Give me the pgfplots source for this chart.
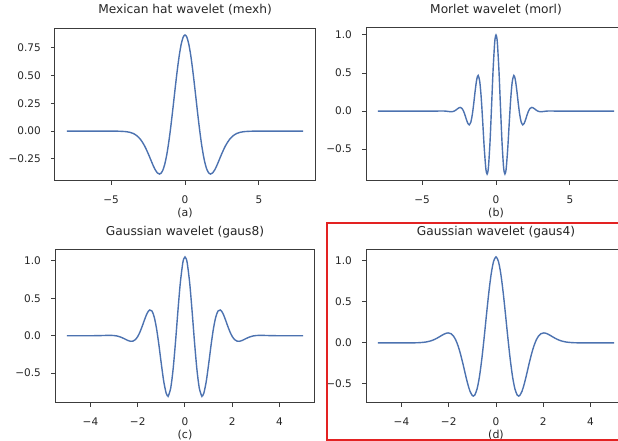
\documentclass[border=0pt]{standalone}
\usepackage{pgfplots}
\pgfplotsset{compat=1.18}
\usepackage{fontspec}
\setmainfont{DejaVu Sans}
\definecolor{sblue}{HTML}{4C72B0}
\definecolor{dk}{HTML}{262626}
\definecolor{sp}{HTML}{3C3C3C}
\definecolor{redbox}{HTML}{E32222}
\pgfplotsset{
  wav/.style={
    scale only axis, width=260pt, height=153pt,
    axis line style={sp, line width=1pt},
    tick pos=left, tick align=outside,
    major tick length=4pt,
    tick style={sp, line width=1pt},
    ticklabel style={text=dk, font=\fontsize{10.5}{12}\selectfont},
    xticklabel style={anchor=base, yshift=-19pt, inner sep=0pt},
    yticklabel style={anchor=east, xshift=-10pt, inner sep=0pt},
    title style={at={(axis description cs:0.5,1)}, anchor=base, yshift=8.7pt, inner sep=0pt, text=dk, font=\fontsize{12.2}{14}\selectfont},
    xlabel style={at={(axis description cs:0.5,0)}, anchor=base, yshift=-35.5pt, inner sep=0pt, text=dk, font=\fontsize{11}{13}\selectfont},
  },
  curve/.style={sblue, line width=1.4pt, smooth, no markers},
}
\begin{document}
\begin{tikzpicture}[x=1pt,y=1pt]
\fill[white] (0,0) rectangle (640,441);
% (a) Mexican hat
\begin{axis}[wav, at={(55pt,260pt)}, anchor=south west,
  xmin=-8.8, xmax=8.8, ymin=-0.4497, ymax=0.9300,
  xtick={-5,0,5}, xticklabels={−5,0,5},
  ytick={-0.25,0,0.25,0.5,0.75}, yticklabels={−0.25,0.00,0.25,0.50,0.75},
  title={Mexican hat wavelet (mexh)}, xlabel={(a)}]
\addplot[curve] coordinates {
(-8,0) (-6,0) (-5,-0.0001) (-4.5,-0.0007) (-4,-0.0044) (-3.75,-0.0100) (-3.5,-0.0213) (-3.25,-0.0422) (-3,-0.0771) (-2.75,-0.1297) (-2.5,-0.2001) (-2.25,-0.2803) (-2.125,-0.3189) (-2,-0.3521) (-1.875,-0.3762) (-1.732,-0.3870) (-1.625,-0.3800) (-1.5,-0.3520) (-1.375,-0.3001) (-1.25,-0.2234) (-1.125,-0.1224) (-1,0) (-0.875,0.1386) (-0.75,0.2864) (-0.625,0.4347) (-0.5,0.5740) (-0.375,0.6947) (-0.25,0.7881) (-0.125,0.8471)
(0,0.8673)
(0.125,0.8471) (0.25,0.7881) (0.375,0.6947) (0.5,0.5740) (0.625,0.4347) (0.75,0.2864) (0.875,0.1386) (1,0) (1.125,-0.1224) (1.25,-0.2234) (1.375,-0.3001) (1.5,-0.3520) (1.625,-0.3800) (1.732,-0.3870) (1.875,-0.3762) (2,-0.3521) (2.125,-0.3189) (2.25,-0.2803) (2.5,-0.2001) (2.75,-0.1297) (3,-0.0771) (3.25,-0.0422) (3.5,-0.0213) (3.75,-0.0100) (4,-0.0044) (4.5,-0.0007) (5,-0.0001) (6,0) (8,0)
};
\end{axis}
% (b) Morlet
\begin{axis}[wav, at={(366pt,260pt)}, anchor=south west,
  xmin=-8.8, xmax=8.8, ymin=-0.9185, ymax=1.0914,
  xtick={-5,0,5}, xticklabels={−5,0,5},
  ytick={-0.5,0,0.5,1}, yticklabels={−0.5,0.0,0.5,1.0},
  title={Morlet wavelet (morl)}, xlabel={(b)}]
\addplot[curve] coordinates {
(-8,0) (-4.5,0) (-4,0.0001) (-3.8,0.0007) (-3.6,0.0010) (-3.5,0.0005) (-3.4,-0.0009) (-3.3,-0.0030) (-3.2,-0.0057) (-3.1,-0.0080) (-3.0294,-0.0086) (-2.9,-0.0053) (-2.8,0.0027) (-2.7,0.0155) (-2.6,0.0309) (-2.5,0.0438) (-2.4202,0.0478) (-2.3,0.0343) (-2.2,0.0004) (-2.1,-0.0524) (-2.0,-0.1136) (-1.9,-0.1640) (-1.8128,-0.1809) (-1.7,-0.1419) (-1.6,-0.0405) (-1.5,0.1125) (-1.4,0.2830) (-1.3,0.4195) (-1.2074,0.4679) (-1.1,0.3870) (-1.0,0.1721) (-0.9,-0.1406) (-0.8,-0.4746) (-0.7,-0.7330) (-0.65,-0.8048) (-0.6033,-0.8271) (-0.55,-0.7946) (-0.5,-0.7070) (-0.4,-0.3842) (-0.3,0.0676) (-0.2,0.5296) (-0.1,0.8732) (-0.05,0.9677)
(0,1.0000)
(0.05,0.9677) (0.1,0.8732) (0.2,0.5296) (0.3,0.0676) (0.4,-0.3842) (0.5,-0.7070) (0.55,-0.7946) (0.6033,-0.8271) (0.65,-0.8048) (0.7,-0.7330) (0.8,-0.4746) (0.9,-0.1406) (1.0,0.1721) (1.1,0.3870) (1.2074,0.4679) (1.3,0.4195) (1.4,0.2830) (1.5,0.1125) (1.6,-0.0405) (1.7,-0.1419) (1.8128,-0.1809) (1.9,-0.1640) (2.0,-0.1136) (2.1,-0.0524) (2.2,0.0004) (2.3,0.0343) (2.4202,0.0478) (2.5,0.0438) (2.6,0.0309) (2.7,0.0155) (2.8,0.0027) (2.9,-0.0053) (3.0294,-0.0086) (3.1,-0.0080) (3.2,-0.0057) (3.3,-0.0030) (3.4,-0.0009) (3.5,0.0005) (3.6,0.0010) (3.8,0.0007) (4,0.0001) (4.5,0) (8,0)
};
\end{axis}
% (c) gaus8
\begin{axis}[wav, at={(55pt,38pt)}, anchor=south west,
  xmin=-5.5, xmax=5.5, ymin=-0.899, ymax=1.147,
  xtick={-4,-2,0,2,4}, xticklabels={−4,−2,0,2,4},
  ytick={-0.5,0,0.5,1}, yticklabels={−0.5,0.0,0.5,1.0},
  title={Gaussian wavelet (gaus8)}, xlabel={(c)}]
\addplot[curve] coordinates {
(-5,0) (-4,0.0004) (-3.5,0.0031) (-3.4,0.0041) (-3.3,0.0049) (-3.2,0.0054) (-3.1,0.0049) (-3.0,0.0028) (-2.9,-0.0017) (-2.8,-0.0093) (-2.7,-0.0203) (-2.6,-0.0346) (-2.5,-0.0505) (-2.4,-0.0651) (-2.3,-0.0740) (-2.2,-0.0714) (-2.1,-0.0516) (-2.0,-0.0101) (-1.9,0.0539) (-1.8,0.1359) (-1.7,0.2245) (-1.6,0.3016) (-1.5,0.3450) (-1.4,0.3324) (-1.3,0.2479) (-1.2,0.0884) (-1.1,-0.1314) (-1.0,-0.3804) (-0.9,-0.6093) (-0.8,-0.7652) (-0.75,-0.8007) (-0.72,-0.8055) (-0.7,-0.8016) (-0.6,-0.6914) (-0.5,-0.4373) (-0.4,-0.0753) (-0.3,0.3307) (-0.2,0.7014) (-0.1,0.9609) (-0.05,1.0304)
(0,1.0540)
(0.05,1.0304) (0.1,0.9609) (0.2,0.7014) (0.3,0.3307) (0.4,-0.0753) (0.5,-0.4373) (0.6,-0.6914) (0.7,-0.8016) (0.72,-0.8055) (0.75,-0.8007) (0.8,-0.7652) (0.9,-0.6093) (1.0,-0.3804) (1.1,-0.1314) (1.2,0.0884) (1.3,0.2479) (1.4,0.3324) (1.5,0.3450) (1.6,0.3016) (1.7,0.2245) (1.8,0.1359) (1.9,0.0539) (2.0,-0.0101) (2.1,-0.0516) (2.2,-0.0714) (2.3,-0.0740) (2.4,-0.0651) (2.5,-0.0505) (2.6,-0.0346) (2.7,-0.0203) (2.8,-0.0093) (2.9,-0.0017) (3.0,0.0028) (3.1,0.0049) (3.2,0.0054) (3.3,0.0049) (3.4,0.0041) (3.5,0.0031) (4,0.0004) (5,0)
};
\end{axis}
% (d) gaus4
\begin{axis}[wav, at={(366pt,38pt)}, anchor=south west,
  xmin=-5.5, xmax=5.5, ymin=-0.7316, ymax=1.1309,
  xtick={-4,-2,0,2,4}, xticklabels={−4,−2,0,2,4},
  ytick={-0.5,0,0.5,1}, yticklabels={−0.5,0.0,0.5,1.0},
  title={Gaussian wavelet (gaus4)}, xlabel={(d)}]
\addplot[curve] coordinates {
(-5,0) (-4,0) (-3.6,0.0004) (-3.4,0.0013) (-3.2,0.0037) (-3.0,0.0094) (-2.9,0.0144) (-2.8,0.0213) (-2.7,0.0305) (-2.6,0.0423) (-2.5,0.0567) (-2.4,0.0732) (-2.3,0.0905) (-2.2,0.1065) (-2.1,0.1181) (-2.02,0.1216) (-1.9,0.1114) (-1.8,0.0834) (-1.7,0.0335) (-1.6,-0.0406) (-1.5,-0.1378) (-1.4,-0.2532) (-1.3,-0.3768) (-1.2,-0.4946) (-1.1,-0.5890) (-1.0,-0.6415) (-0.9586,-0.6469) (-0.9,-0.6354) (-0.8,-0.5593) (-0.7,-0.4101) (-0.6,-0.1950) (-0.5,0.0679) (-0.4,0.3514) (-0.3,0.6223) (-0.2,0.8465) (-0.1,0.9945)
(0,1.0462)
(0.1,0.9945) (0.2,0.8465) (0.3,0.6223) (0.4,0.3514) (0.5,0.0679) (0.6,-0.1950) (0.7,-0.4101) (0.8,-0.5593) (0.9,-0.6354) (0.9586,-0.6469) (1.0,-0.6415) (1.1,-0.5890) (1.2,-0.4946) (1.3,-0.3768) (1.4,-0.2532) (1.5,-0.1378) (1.6,-0.0406) (1.7,0.0335) (1.8,0.0834) (1.9,0.1114) (2.02,0.1216) (2.1,0.1181) (2.2,0.1065) (2.3,0.0905) (2.4,0.0732) (2.5,0.0567) (2.6,0.0423) (2.7,0.0305) (2.8,0.0213) (2.9,0.0144) (3.0,0.0094) (3.2,0.0037) (3.4,0.0013) (3.6,0.0004) (4,0) (5,0)
};
\end{axis}
\draw[redbox, line width=2pt] (326.7,217.7) rectangle (660,1);
\pgfresetboundingbox
\path[use as bounding box] (0,0) rectangle (618,441);
\end{tikzpicture}
\end{document}
